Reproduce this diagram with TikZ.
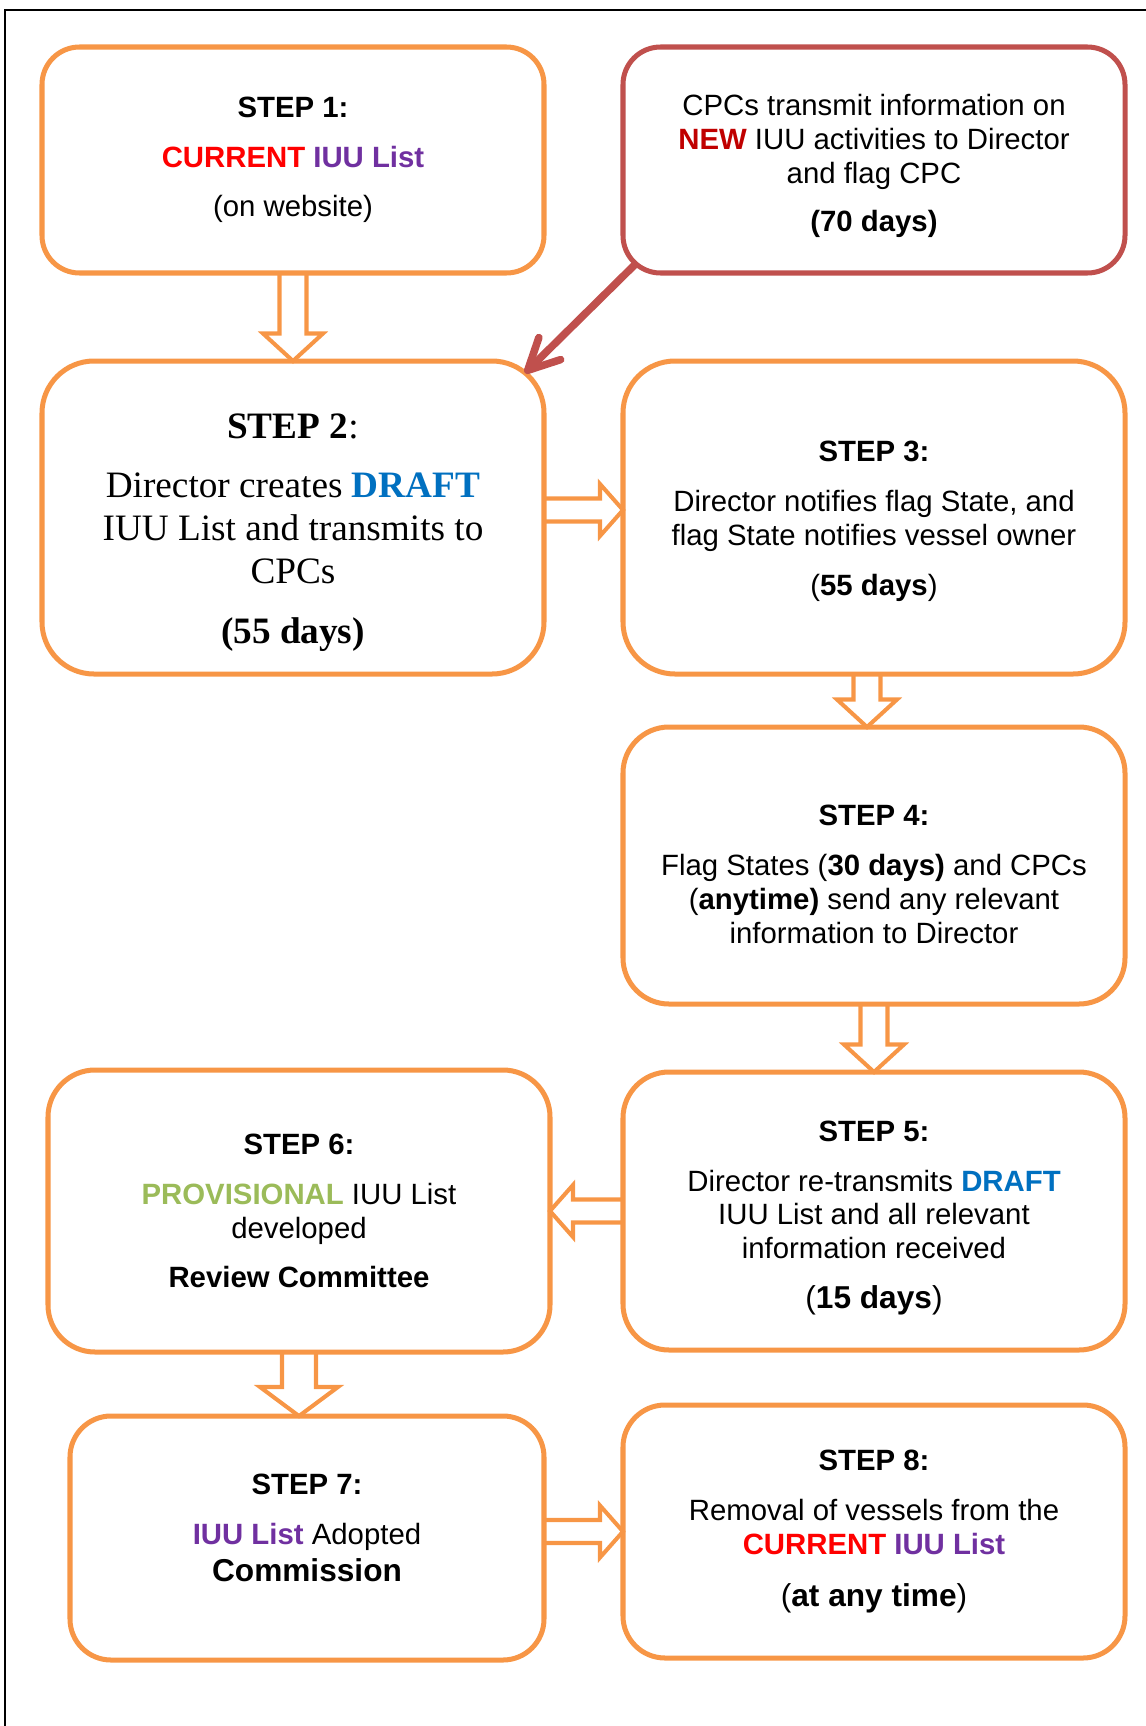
\documentclass[tikz,border=0pt]{standalone}
\usepackage{fontspec}
\setmainfont{Liberation Sans}
\newfontfamily\timesfont{Liberation Serif}
\usepackage{tikz}
\usetikzlibrary{positioning}
\usetikzlibrary{arrows.meta}
\definecolor{boxorange}{HTML}{F79646}
\definecolor{cpcred}{HTML}{C0504D}
\definecolor{curred}{HTML}{FF0000}
\definecolor{newred}{HTML}{C00000}
\definecolor{iuupurple}{HTML}{7030A0}
\definecolor{draftblue}{HTML}{0070C0}
\definecolor{provgreen}{HTML}{9BBB59}
\newcommand{\bigtxt}{\fontsize{18pt}{21pt}\selectfont}
\tikzstyle{stepbox}=[rectangle,draw=boxorange,line width=2.85pt,fill=white,align=center,minimum width=10.04cm,outer sep=0pt,inner sep=0pt,font=\fontsize{16.7pt}{19.3pt}\selectfont]
\tikzstyle{blk}=[draw=boxorange,line width=2.3pt,line join=miter]

\begin{document}
\begin{tikzpicture}[node distance=1.58cm]

				\useasboundingbox (-5.86,3.2) rectangle (17.06,-31.32);
				\draw[line width=1.1pt] (-5.76,-31.32) -- (-5.76,3.0) -- (17.06,3.0);
				
				\begin{scope}
				
				\node [stepbox, minimum height=4.52cm, rounded corners=0.75cm] (s1) at (0,0)
				{\textbf{STEP 1:}\\[9pt]\textbf{\textcolor{curred}{CURRENT} \textcolor{iuupurple}{IUU List}}\\[9pt](on website)};
				
				\node [stepbox, draw=cpcred, minimum height=4.52cm, rounded corners=0.75cm, right = 1.58cm of s1] (cpc)
				{\rule{0pt}{18.5pt}CPCs transmit information on\\\textbf{\textcolor{newred}{NEW}} IUU activities to Director\\and flag CPC\\[8pt]\textbf{(70 days)}};
				
				\node [stepbox, minimum height=6.26cm, rounded corners=1.04cm, below = 1.76cm of s1, font=\timesfont\fontsize{21.2pt}{24.5pt}\selectfont] (s2)
				{\rule{0pt}{31.5pt}\textbf{STEP 2}:\\[9pt]Director creates \textbf{\textcolor{draftblue}{DRAFT}}\\IUU List and transmits to\\CPCs\\[10pt]\textbf{(55 days)}};
				
				\node [stepbox, minimum height=6.26cm, rounded corners=1.04cm, right = 1.58cm of s2] (s3)
				{\rule{0pt}{16pt}\textbf{STEP 3:}\\[9pt]Director notifies flag State, and\\flag State notifies vessel owner\\[9pt](\textbf{55 days})};
				
				\node [stepbox, minimum height=5.54cm, rounded corners=0.92cm, below = 1.06cm of s3] (s4)
				{\rule{0pt}{22pt}\textbf{STEP 4:}\\[9pt]Flag States (\textbf{30 days)} and CPCs\\(\textbf{anytime)} send any relevant\\information to Director};
				
				\node [stepbox, minimum height=5.56cm, rounded corners=0.92cm, below = 1.36cm of s4] (s5)
				{\rule{0pt}{19.6pt}\textbf{STEP 5:}\\[9pt]Director re-transmits \textbf{\textcolor{draftblue}{DRAFT}}\\IUU List and all relevant\\information received\\[9pt]{\bigtxt(\textbf{15 days})}};
				
				\node [stepbox, minimum height=5.64cm, rounded corners=0.94cm, left = 1.46cm of s5] (s6)
				{\textbf{STEP 6:}\\[9pt]\textbf{\textcolor{provgreen}{PROVISIONAL}} IUU List\\developed\\[9pt]\textbf{Review Committee}};
				
				\node [stepbox, minimum width=9.48cm, minimum height=4.88cm, rounded corners=0.82cm, below = 1.28cm of s6, xshift=0.16cm] (s7)
				{\textbf{STEP 7:}\\[9pt]\textbf{\textcolor{iuupurple}{IUU List}} Adopted\\[2pt]{\bigtxt\textbf{Commission}}\rule[-11.3pt]{0pt}{11.3pt}};
				
				\node [stepbox, minimum height=5.06cm, rounded corners=0.84cm, below = 1.1cm of s5] (s8)
				{\textbf{STEP 8:}\\[9pt]Removal of vessels from the\\\textbf{\textcolor{curred}{CURRENT} \textcolor{iuupurple}{IUU List}}\\[10pt]{\bigtxt(\textbf{at any time})}};
				
				
				% block arrows, down
				\def\sw{0.27cm}
				\def\hw{0.6cm}
				\def\hl{0.55cm}
				
				\draw[blk] ([xshift=-\sw]s1.south) -- ([xshift=-\sw,yshift=\hl]s2.north) -- ([xshift=-\hw,yshift=\hl]s2.north) -- (s2.north) -- ([xshift=\hw,yshift=\hl]s2.north) -- ([xshift=\sw,yshift=\hl]s2.north) -- ([xshift=\sw]s1.south);
				
				\coordinate (a34) at ([xshift=-0.14cm]s3.south);
				\coordinate (b34) at ([xshift=-0.14cm]s4.north);
				\draw[blk] ([xshift=-\sw]a34) -- ([xshift=-\sw,yshift=\hl]b34) -- ([xshift=-\hw,yshift=\hl]b34) -- (b34) -- ([xshift=\hw,yshift=\hl]b34) -- ([xshift=\sw,yshift=\hl]b34) -- ([xshift=\sw]a34);
				
				\draw[blk] ([xshift=-\sw]s4.south) -- ([xshift=-\sw,yshift=\hl]s5.north) -- ([xshift=-\hw,yshift=\hl]s5.north) -- (s5.north) -- ([xshift=\hw,yshift=\hl]s5.north) -- ([xshift=\sw,yshift=\hl]s5.north) -- ([xshift=\sw]s4.south);
				
				\def\sw{0.34cm}
				\def\hw{0.78cm}
				\def\hl{0.58cm}
				\coordinate (b67) at (s6.south |- s7.north);
				\draw[blk] ([xshift=-\sw]s6.south) -- ([xshift=-\sw,yshift=\hl]b67) -- ([xshift=-\hw,yshift=\hl]b67) -- (b67) -- ([xshift=\hw,yshift=\hl]b67) -- ([xshift=\sw,yshift=\hl]b67) -- ([xshift=\sw]s6.south);
				
				
				% block arrows, sideways
				\def\sw{0.23cm}
				\def\hw{0.52cm}
				\def\hl{0.46cm}
				
				\coordinate (a23) at ([yshift=0.15cm]s2.east);
				\coordinate (b23) at ([yshift=0.15cm]s3.west);
				\draw[blk] ([yshift=\sw]a23) -- ([xshift=-\hl,yshift=\sw]b23) -- ([xshift=-\hl,yshift=\hw]b23) -- (b23) -- ([xshift=-\hl,yshift=-\hw]b23) -- ([xshift=-\hl,yshift=-\sw]b23) -- ([yshift=-\sw]a23);
				
				\draw[blk] ([yshift=\sw]s5.west) -- ([xshift=\hl,yshift=\sw]s6.east) -- ([xshift=\hl,yshift=\hw]s6.east) -- (s6.east) -- ([xshift=\hl,yshift=-\hw]s6.east) -- ([xshift=\hl,yshift=-\sw]s6.east) -- ([yshift=-\sw]s5.west);
				
				\coordinate (a78) at (s7.east |- s8.west);
				\draw[blk] ([yshift=\sw]a78) -- ([xshift=-\hl,yshift=\sw]s8.west) -- ([xshift=-\hl,yshift=\hw]s8.west) -- (s8.west) -- ([xshift=-\hl,yshift=-\hw]s8.west) -- ([xshift=-\hl,yshift=-\sw]s8.west) -- ([yshift=-\sw]a78);
				
				
				% new information into STEP 2
				\coordinate [above right = 0.18cm and 0.25cm of cpc.south west] (rstart);
				\coordinate [below left = 0.24cm and 0.38cm of s2.north east] (rtip);
				\draw[cpcred,line width=4.3pt,-{Straight Barb[length=0.62cm,width=0.62cm,round]}] (rstart) -- (rtip);
				
				\end{scope}
\end{tikzpicture}
\end{document}
